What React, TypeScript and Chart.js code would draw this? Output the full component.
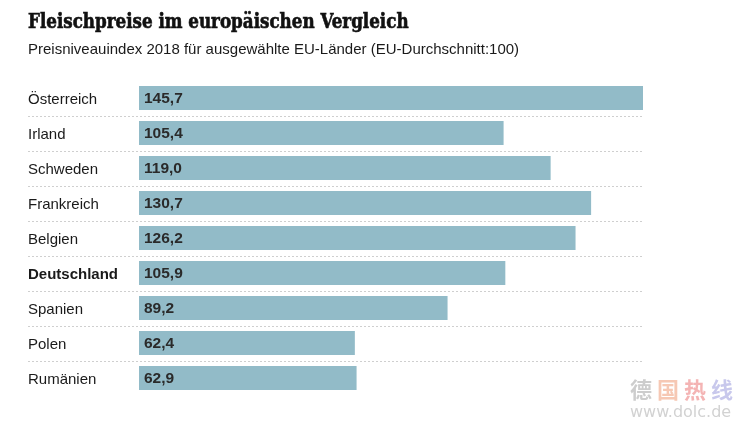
import React, { useEffect, useRef } from "react";
import { Chart, registerables } from "chart.js";

Chart.register(...registerables);

const countries = [
  "Österreich",
  "Irland",
  "Schweden",
  "Frankreich",
  "Belgien",
  "Deutschland",
  "Spanien",
  "Polen",
  "Rumänien",
];
const values = [145.7, 105.4, 119.0, 130.7, 126.2, 105.9, 89.2, 62.4, 62.9];
const highlighted = ["Deutschland"];
const axisMax = 145.7;

const titleText = "Fleischpreise im europäischen Vergleich";
const subtitleText = "Preisniveauindex 2018 für ausgewählte EU-Länder (EU-Durchschnitt:100)";

const fmt = (v: number) => v.toFixed(1).replace(".", ",");

const separatorPlugin = {
  id: "separators",
  beforeDatasetsDraw(chart: any) {
    const { ctx, chartArea, scales } = chart;
    const y = scales.y;
    ctx.save();
    ctx.strokeStyle = "#cfcfcf";
    ctx.lineWidth = 1;
    ctx.setLineDash([2, 2]);
    for (let i = 0; i < countries.length - 1; i++) {
      const py = Math.round((y.getPixelForValue(i) + y.getPixelForValue(i + 1)) / 2) + 0.5;
      ctx.beginPath();
      ctx.moveTo(28, py);
      ctx.lineTo(chartArea.right, py);
      ctx.stroke();
    }
    ctx.restore();
  },
};

const valueLabelPlugin = {
  id: "valueLabels",
  afterDatasetsDraw(chart: any) {
    const { ctx } = chart;
    const meta = chart.getDatasetMeta(0);
    ctx.save();
    ctx.fillStyle = "#2a2a2a";
    ctx.font = "bold 15.5px 'Liberation Sans', Arial, sans-serif";
    ctx.textBaseline = "middle";
    ctx.textAlign = "left";
    meta.data.forEach((bar: any, i: number) => {
      ctx.fillText(fmt(values[i]), bar.base + 5, bar.y + 1);
    });
    ctx.restore();
  },
};

export default function App() {
  const ref = useRef<HTMLCanvasElement | null>(null);

  useEffect(() => {
    if (!ref.current) return;
    const chart = new Chart(ref.current, {
      type: "bar",
      data: {
        labels: countries,
        datasets: [
          {
            data: values,
            backgroundColor: "#92bbc8",
            borderWidth: 0,
            categoryPercentage: 1,
            barPercentage: 24 / 35,
          },
        ],
      },
      options: {
        indexAxis: "y",
        animation: false,
        responsive: false,
        maintainAspectRatio: false,
        layout: { padding: { left: 28, right: 101, top: 80.5, bottom: 32.5 } },
        plugins: {
          legend: { display: false },
          tooltip: { enabled: false },
          title: { display: false },
        },
        scales: {
          x: {
            display: false,
            min: 0,
            max: axisMax,
          },
          y: {
            border: { display: false },
            grid: { display: false },
            afterFit(scale: any) {
              scale.width = 111;
            },
            ticks: {
              crossAlign: "far",
              padding: 0,
              labelOffset: 2,
              color: "#1a1a1a",
              font: (ctx: any) => ({
                family: "'Liberation Sans', Arial, sans-serif",
                size: 15,
                weight: highlighted.includes(countries[ctx.index]) ? "bold" : "normal",
              }),
            },
          },
        },
      },
      plugins: [separatorPlugin, valueLabelPlugin],
    } as any);
    return () => chart.destroy();
  }, []);

  return (
    <div style={{ position: "absolute", left: 0, top: 0, width: 744, height: 428, background: "#fff", overflow: "hidden" }}>
      <canvas ref={ref} width={744} height={428} style={{ position: "absolute", left: 0, top: 0 }} />
      <div
        style={{
          position: "absolute",
          left: 28,
          top: 8,
          fontFamily: "'DejaVu Serif', serif",
          fontStretch: "condensed",
          fontWeight: "bold",
          fontSize: 20,
          lineHeight: "26px",
          color: "#111",
          whiteSpace: "nowrap",
          WebkitTextStroke: "0.6px #111",
          transform: "scaleX(0.93)",
          transformOrigin: "left top",
        }}
      >
        {titleText}
      </div>
      <div
        style={{
          position: "absolute",
          left: 28,
          top: 39,
          fontFamily: "'Liberation Sans', Arial, sans-serif",
          fontSize: 15,
          lineHeight: "20px",
          color: "#1a1a1a",
          whiteSpace: "nowrap",
        }}
      >
        {subtitleText}
      </div>
      <div
        style={{
          position: "absolute",
          left: 630,
          top: 374,
          fontFamily: "'Noto Sans CJK SC', sans-serif",
          fontWeight: "bold",
          fontSize: 22,
          lineHeight: "28px",
          whiteSpace: "nowrap",
          letterSpacing: 5,
        }}
      >
        <span style={{ color: "#cdcdcd" }}>德</span>
        <span style={{ color: "#f6c8b4" }}>国</span>
        <span style={{ color: "#f4b4b4" }}>热</span>
        <span style={{ color: "#c8c8ec" }}>线</span>
      </div>
      <div
        style={{
          position: "absolute",
          left: 630,
          top: 402,
          fontFamily: "'DejaVu Sans', sans-serif",
          fontSize: 16,
          lineHeight: "20px",
          color: "#d2d2d2",
          whiteSpace: "nowrap",
        }}
      >
        www.dolc.de
      </div>
    </div>
  );
}
